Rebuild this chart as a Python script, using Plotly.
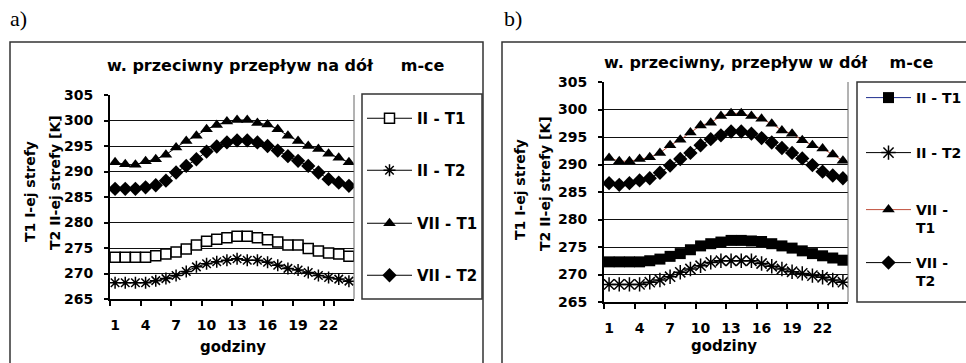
import plotly.graph_objects as go

W, H = 966, 363

hours = ["1", "2", "3", "4", "5", "6", "7", "8", "9", "10", "11", "12",
         "13", "14", "15", "16", "17", "18", "19", "20", "21", "22", "23", "24"]
hour_labels = ["1", "4", "7", "10", "13", "16", "19", "22"]

# panel a) w. przeciwny przepływ na dół
a_II_T1 = [273.2, 273.2, 273.2, 273.2, 273.5, 273.8, 274.2, 274.8, 275.6, 276.3, 276.7, 277.0,
           277.3, 277.3, 277.0, 276.6, 276.2, 275.6, 275.6, 274.9, 274.4, 274.0, 273.8, 273.4]
a_II_T2 = [268.2, 268.2, 268.2, 268.2, 268.6, 269.0, 269.6, 270.4, 271.3, 271.9, 272.3, 272.6,
           272.9, 272.6, 272.6, 272.2, 271.6, 271.0, 270.7, 270.2, 269.6, 269.2, 268.9, 268.5]
a_VII_T1 = [291.8, 291.4, 291.3, 292.0, 292.4, 293.3, 294.7, 296.0, 297.0, 298.3, 299.1, 299.8,
            300.1, 300.1, 299.5, 299.2, 298.3, 297.0, 296.0, 295.0, 294.4, 293.5, 292.7, 291.8]
a_VII_T2 = [286.6, 286.6, 286.6, 286.9, 287.3, 288.2, 289.8, 291.1, 292.4, 293.9, 294.9, 295.7,
            296.1, 296.1, 295.7, 295.0, 294.1, 293.0, 292.1, 291.1, 289.8, 288.5, 287.8, 287.2]

# panel b) w. przeciwny, przepływ w dół
b_II_T1 = [272.3, 272.3, 272.3, 272.3, 272.5, 272.8, 273.3, 273.8, 274.5, 275.2, 275.6, 275.9,
           276.2, 276.2, 276.1, 276.0, 275.6, 275.2, 274.8, 274.3, 273.8, 273.4, 273.0, 272.6]
b_II_T2 = [268.2, 268.2, 268.2, 268.2, 268.6, 269.0, 269.6, 270.4, 271.0, 271.6, 272.2, 272.5,
           272.5, 272.5, 272.5, 272.0, 271.5, 271.0, 270.5, 270.2, 269.8, 269.5, 269.0, 268.6]
b_VII_T1 = [291.2, 290.6, 290.6, 291.0, 291.3, 292.1, 293.5, 294.5, 295.8, 297.1, 297.6, 298.8,
            299.3, 299.3, 298.8, 298.3, 297.4, 296.2, 295.6, 294.4, 293.5, 292.9, 291.8, 290.7]
b_VII_T2 = [286.6, 286.3, 286.6, 287.1, 287.5, 288.5, 289.8, 291.0, 292.1, 293.5, 294.6, 295.3,
            296.0, 296.0, 295.6, 294.8, 294.0, 293.0, 292.1, 291.1, 289.9, 288.7, 288.0, 287.5]

y_ticks = [265, 270, 275, 280, 285, 290, 295, 300, 305]

FONT = "DejaVu Sans"


def px(x):
    return x / W


def py(y):
    return 1 - y / H


def bold(s):
    return "<b>" + s + "</b>"


fig = go.Figure()

# ---- panel a traces
a_specs = [
    ("II - T1", a_II_T1, dict(symbol="square", size=10, color="white", line=dict(color="black", width=1.5)), "black", "legend"),
    ("II - T2", a_II_T2, dict(symbol="asterisk-open", size=10, color="black", line=dict(color="black", width=1.5)), "black", "legend2"),
    ("VII - T1", a_VII_T1, dict(symbol="triangle-up", size=11, color="black", line=dict(color="black", width=0)), "black", "legend3"),
    ("VII - T2", a_VII_T2, dict(symbol="diamond", size=11, color="black", line=dict(color="black", width=0)), "black", "legend4"),
]
for name, vals, mk, lc, lg in a_specs:
    fig.add_trace(go.Scatter(x=hours, y=vals, name=bold(name), mode="lines+markers",
                             marker=mk, line=dict(color=lc, width=1), showlegend=True,
                             xaxis="x", yaxis="y", legend=lg))

# ---- panel b traces
b_specs = [
    ("II - T1", b_II_T1, dict(symbol="square", size=11, color="black", line=dict(color="black", width=0)), "#1f2f8f", "legend5"),
    ("II - T2", b_II_T2, dict(symbol="asterisk-open", size=12, color="black", line=dict(color="black", width=1.5)), "black", "legend6"),
    ("VII -<br>T1", b_VII_T1, dict(symbol="triangle-up", size=11, color="black", line=dict(color="black", width=0)), "#c0503c", "legend7"),
    ("VII -<br>T2", b_VII_T2, dict(symbol="diamond", size=11, color="black", line=dict(color="black", width=0)), "black", "legend8"),
]
for name, vals, mk, lc, lg in b_specs:
    fig.add_trace(go.Scatter(x=hours, y=vals, name=bold(name), mode="lines+markers",
                             marker=mk, line=dict(color=lc, width=1), showlegend=True,
                             xaxis="x2", yaxis="y2", legend=lg))

# plot area geometry (pixels)
A = dict(x0=110, x1=354, yt=95, yb=299)
B = dict(x0=604, x1=848, yt=82, yb=302)

tickfont = dict(family=FONT, size=14, color="black", weight="bold")


def xaxis_cfg(g):
    return dict(domain=[px(g["x0"]), px(g["x1"])], type="category",
                range=[-0.5, 23.5], tickmode="array", tickvals=hour_labels,
                ticktext=[bold(t) for t in hour_labels], tickangle=0,
                tickson="boundaries", ticks="outside", ticklen=5, tickwidth=2,
                tickcolor="black", showline=True, linecolor="black", linewidth=2,
                showgrid=False, zeroline=False, tickfont=tickfont,
                ticklabelstandoff=12, fixedrange=True, automargin=False)


def yaxis_cfg(g, anchor):
    return dict(domain=[py(g["yb"]), py(g["yt"])], range=[265, 305],
                tickmode="array", tickvals=y_ticks, ticktext=[bold(str(v)) for v in y_ticks],
                ticks="outside", ticklen=4,
                tickwidth=2, tickcolor="black", showline=True, linecolor="black",
                linewidth=2, showgrid=True, gridcolor="#111", gridwidth=1,
                zeroline=False, tickfont=tickfont, ticklabelstandoff=8,
                anchor=anchor, fixedrange=True, automargin=False)


fig.update_layout(
    width=W, height=H,
    margin=dict(l=0, r=0, t=0, b=0, pad=0, autoexpand=False),
    paper_bgcolor="white", plot_bgcolor="white",
    showlegend=True,
    font=dict(family=FONT, size=14, color="black", weight="bold"),
    xaxis=dict(xaxis_cfg(A), anchor="y"),
    yaxis=yaxis_cfg(A, "x"),
    xaxis2=dict(xaxis_cfg(B), anchor="y2"),
    yaxis2=yaxis_cfg(B, "x2"),
)

# legends (one per entry so vertical spacing matches)
leg_pos = {
    "legend": (362, 116, 15), "legend2": (362, 168, 15), "legend3": (362, 221, 15), "legend4": (362, 273, 15),
    "legend5": (861, 96, 14), "legend6": (861, 151, 14), "legend7": (861, 208, 14), "legend8": (861, 261, 14),
}
for key, (lx, ly, fs) in leg_pos.items():
    fig.update_layout({key: dict(x=px(lx), y=py(ly - 14), xanchor="left", yanchor="top",
                                 xref="paper", yref="paper", bgcolor="rgba(0,0,0,0)",
                                 borderwidth=0, font=dict(family=FONT, size=fs, color="black", weight="bold"),
                                 itemwidth=45, valign="top", tracegroupgap=0)})

shapes = []
# outer panel frames
shapes.append(dict(type="rect", xref="paper", yref="paper", x0=px(10), x1=px(483),
                   y0=py(370), y1=py(42), line=dict(color="#333", width=1.5)))
shapes.append(dict(type="rect", xref="paper", yref="paper", x0=px(502), x1=px(975),
                   y0=py(370), y1=py(42), line=dict(color="#333", width=1.5)))
# legend frames
shapes.append(dict(type="rect", xref="paper", yref="paper", x0=px(362), x1=px(482),
                   y0=py(299), y1=py(94), line=dict(color="#333", width=1.5)))
shapes.append(dict(type="rect", xref="paper", yref="paper", x0=px(857), x1=px(975),
                   y0=py(302), y1=py(82), line=dict(color="#333", width=1.5)))
# plot-area right borders
for g in (A, B):
    shapes.append(dict(type="line", xref="paper", yref="paper", x0=px(g["x1"]), x1=px(g["x1"]),
                       y0=py(g["yb"]), y1=py(g["yt"]), line=dict(color="#666", width=1)))
fig.update_layout(shapes=shapes)

ann = []
tfont = dict(family=FONT, size=16, color="black", weight="bold")
gfont = dict(family=FONT, size=15, color="black", weight="bold")
lfont = dict(family=FONT, size=14, color="black", weight="bold")
sfont = dict(family="Liberation Serif", size=22, color="black", weight="normal")
ann.append(dict(text="a)", x=px(8), y=py(18), xanchor="left", yanchor="middle", showarrow=False,
                xref="paper", yref="paper", font=sfont))
ann.append(dict(text="b)", x=px(502), y=py(18), xanchor="left", yanchor="middle", showarrow=False,
                xref="paper", yref="paper", font=sfont))
ann.append(dict(text=bold("w. przeciwny przepływ na dół\u00a0\u00a0\u00a0\u00a0\u00a0m-ce"), x=px(276), y=py(65),
                xanchor="center", yanchor="middle", showarrow=False, xref="paper", yref="paper", font=tfont))
ann.append(dict(text=bold("w. przeciwny, przepływ w dół\u00a0\u00a0\u00a0\u00a0m-ce"), x=px(768), y=py(63),
                xanchor="center", yanchor="middle", showarrow=False, xref="paper", yref="paper", font=tfont))
for (xx, yy, txt) in [(30, 192, "T1 I-ej strefy"), (55, 183, "T2 II-ej strefy [K]"),
                      (520, 190, "T1 I-ej strefy"), (545, 184, "T2 II-ej strefy [K]")]:
    ann.append(dict(text=bold(txt), x=px(xx), y=py(yy), xanchor="center", yanchor="middle", textangle=-90,
                    showarrow=False, xref="paper", yref="paper", font=lfont))
ann.append(dict(text=bold("godziny"), x=px(233), y=py(347), xanchor="center", yanchor="middle",
                showarrow=False, xref="paper", yref="paper", font=gfont))
ann.append(dict(text=bold("godziny"), x=px(724), y=py(346), xanchor="center", yanchor="middle",
                showarrow=False, xref="paper", yref="paper", font=gfont))
fig.update_layout(annotations=ann)

fig.write_html("out.html", config={"displayModeBar": False},
               post_script="document.body.style.margin='0';document.body.style.overflow='hidden';")
